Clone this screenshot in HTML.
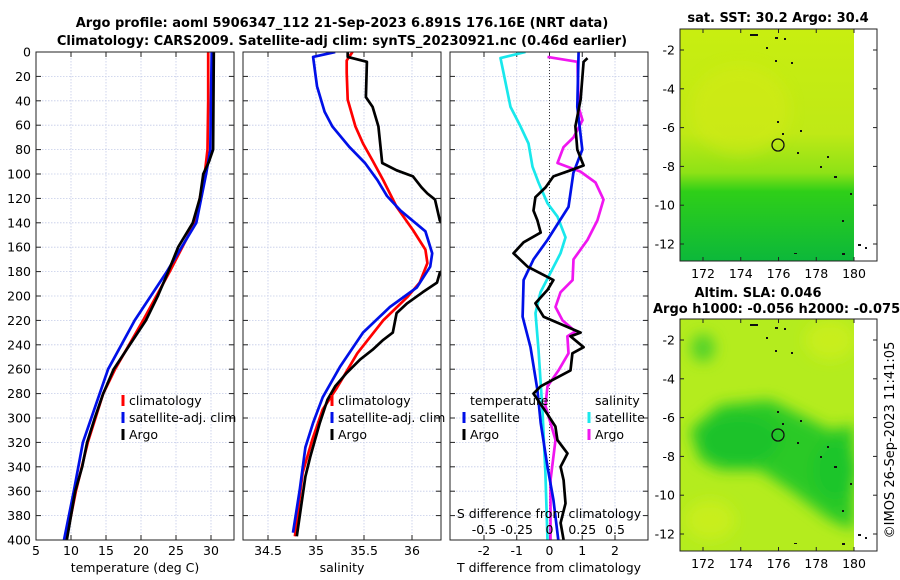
<!DOCTYPE html>
<html><head><meta charset="utf-8">
<style>
html,body{margin:0;padding:0;background:#fff;}
svg{display:block;font-family:"DejaVu Sans","Liberation Sans",sans-serif;}
</style></head>
<body>
<svg id="fig" width="900" height="580" viewBox="0 0 900 580" xmlns="http://www.w3.org/2000/svg">
<defs>
<filter id="blur6" x="-20%" y="-20%" width="140%" height="140%"><feGaussianBlur stdDeviation="7"/></filter>
<clipPath id="c1"><rect x="36" y="52" width="198" height="488"/></clipPath>
<clipPath id="c2"><rect x="243" y="52" width="198" height="488"/></clipPath>
<clipPath id="c3"><rect x="450" y="52" width="198" height="488"/></clipPath>
<clipPath id="m1"><rect x="680" y="29" width="174" height="232"/></clipPath>
<clipPath id="m2"><rect x="680" y="319" width="174" height="232"/></clipPath>
<linearGradient id="sstg" x1="0" y1="0" x2="0" y2="1">
<stop offset="0" stop-color="#c8ee10"/><stop offset="0.45" stop-color="#bfe916"/><stop offset="0.62" stop-color="#8ee216"/><stop offset="0.7" stop-color="#2fcf18"/><stop offset="1" stop-color="#0cb83a"/>
</linearGradient>
</defs>
<text x="342" y="27" font-size="13" font-weight="bold" text-anchor="middle">Argo profile: aoml 5906347_112 21-Sep-2023 6.891S 176.16E (NRT data)</text>
<text x="342" y="45" font-size="13" font-weight="bold" text-anchor="middle">Climatology: CARS2009. Satellite-adj clim: synTS_20230921.nc (0.46d earlier)</text>
<g id="panels"></g>
<!-- Map 1 -->
<g>
<text x="778" y="22" font-size="13" font-weight="bold" text-anchor="middle">sat. SST: 30.2 Argo: 30.4</text>
<g clip-path="url(#m1)">
<rect x="680" y="29" width="174" height="232" fill="url(#sstg)"/>
<ellipse cx="740" cy="110" rx="50" ry="45" fill="#d6ea18" opacity="0.5" filter="url(#blur6)"/>
</g>
<rect x="680" y="29" width="197" height="232" fill="none" stroke="#222" stroke-width="1"/>
<circle cx="778" cy="145" r="6" fill="none" stroke="#111" stroke-width="1.3"/>
<g id="dots1" fill="#111"></g>
</g>
<!-- Map 2 -->
<g>
<text x="758" y="297" font-size="13" font-weight="bold" text-anchor="middle">Altim. SLA: 0.046</text>
<text x="653" y="313" font-size="13" font-weight="bold">Argo h1000: -0.056 h2000: -0.075</text>
<g clip-path="url(#m2)">
<rect x="680" y="319" width="174" height="232" fill="#b4ec1e"/>
<g filter="url(#blur6)">
<ellipse cx="703" cy="348" rx="12" ry="14" fill="#52d22a"/>
<path d="M690 430 L720 405 L770 400 L790 410 L830 430 L854 425 L854 530 L830 520 L790 490 L760 470 L720 470 L700 460 Z" fill="#2ac926"/>
<ellipse cx="740" cy="440" rx="40" ry="25" fill="#1fc22c"/>
<ellipse cx="835" cy="470" rx="22" ry="30" fill="#1ec52c"/>
<ellipse cx="830" cy="340" rx="25" ry="20" fill="#c8ee1a"/>
<ellipse cx="710" cy="520" rx="25" ry="20" fill="#c8ee1a"/>
</g>
</g>
<rect x="680" y="319" width="197" height="232" fill="none" stroke="#222" stroke-width="1"/>
<circle cx="778" cy="435" r="6" fill="none" stroke="#111" stroke-width="1.3"/>
<g id="dots2" fill="#111"></g>
</g>
<text transform="translate(894,440) rotate(-90)" font-size="13" text-anchor="middle">©IMOS 26-Sep-2023 11:41:05</text>
<g id="mapaxes"></g>
</svg>
<script>
// ---- data (depth in m) ----
var tempDepths   = [0,40,80,100,140,180,220,260,280,320,360,400];
var tempClim     = [29.6,29.6,29.5,29.1,27.7,24.1,20.3,16.3,14.6,12.4,10.7,9.3];
var tempSatClim  = [30.1,30.0,29.9,29.3,27.9,23.7,19.1,15.3,14.1,11.7,10.4,9.0];
var tempArgoDepths = [0,80,90,100,120,140,160,180,200,220,240,260,280,300,320,340,360,380,400];
var tempArgo     = [30.4,30.3,29.7,28.9,28.4,27.4,25.3,23.9,22.4,20.7,18.4,16.1,14.6,13.4,12.3,11.6,10.6,10.0,9.4];

var salClimDepths = [0,7,17,39,61,75,89,105,127,146,162,173,189,201,220,247,275,293,318,345,397];
var salClim      = [35.38,35.32,35.32,35.33,35.41,35.49,35.59,35.70,35.84,36.01,36.14,36.16,36.08,35.95,35.70,35.43,35.22,35.07,34.96,34.86,34.78];
var salSatDepths = [0,4,28,49,61,78,91,105,118,130,147,165,176,193,209,230,258,283,304,324,359,394];
var salSat       = [35.20,34.97,35.01,35.09,35.17,35.35,35.51,35.64,35.74,35.88,36.14,36.21,36.19,36.05,35.77,35.49,35.25,35.07,34.97,34.89,34.83,34.76];
var salArgoDepths = [0,4,8,37,45,61,91,97,102,111,116,121,138,155,170,181,189,197,206,214,230,236,244,252,263,274,285,304,332,348,397];
var salArgo      = [35.33,35.33,35.53,35.52,35.59,35.65,35.69,35.84,36.01,36.10,36.16,36.24,36.29,36.45,36.45,36.29,36.26,36.11,35.95,35.84,35.80,35.70,35.59,35.46,35.32,35.20,35.12,35.04,34.94,34.89,34.80];

var dTSatDepths = [0,45,80,99,127,154,170,187,217,242,277,304,340,367,400];
var dTSat       = [0.89,0.85,1.0,0.73,0.58,-0.06,-0.49,-0.79,-0.82,-0.58,-0.37,-0.27,-0.06,0.12,0.27];
var dTArgoDepths = [5,8,39,61,80,93,97,102,111,119,130,138,148,156,165,176,187,195,206,217,230,233,242,247,261,274,280,297,307,318,329,340,351,370,386,400];
var dTArgo      = [1.16,1.04,0.95,0.79,0.85,1.04,0.64,0.12,-0.12,-0.43,-0.49,-0.37,-0.27,-0.79,-1.10,-0.67,0.12,-0.06,-0.43,-0.18,0.95,0.64,1.04,0.70,0.64,-0.27,-0.49,-0.06,0.18,0.24,0.55,0.34,0.43,0.49,0.34,0.43];
var dSSatDepths = [0,5,17,45,61,75,94,107,124,135,152,165,181,197,214,244,296,345,400];
var dSSat       = [-0.183,-0.374,-0.351,-0.298,-0.221,-0.160,-0.130,-0.084,-0.015,0.061,0.122,0.084,0.008,-0.069,-0.107,-0.084,-0.053,-0.031,-0.015];
var dSArgoDepths = [4,8,45,56,70,78,91,98,107,121,138,154,170,187,197,209,220,229,233,247,261,274,290,304,318,351,400];
var dSArgo      = [-0.015,0.214,0.221,0.252,0.183,0.107,0.061,0.237,0.351,0.412,0.366,0.290,0.183,0.176,0.084,0.046,0.099,0.198,0.137,0.145,0.069,-0.015,-0.031,0.008,0.046,0.008,0.008];

var depthTicks = [0,20,40,60,80,100,120,140,160,180,200,220,240,260,280,300,320,340,360,380,400];
var tempTicks = [5,10,15,20,25,30];
var salTicks = ["34.5","35","35.5","36"];
var diffTicks = ["-2","-1","0","1","2"];
var sdiffTicks = ["-0.5","-0.25","0","0.25","0.5"];

var NS="http://www.w3.org/2000/svg";
function el(tag, attrs, parent){var e=document.createElementNS(NS,tag);for(var k in attrs)e.setAttribute(k,attrs[k]);parent.appendChild(e);return e;}
var Y0=52,Y1=540;
function yD(d){return Y0+(d/400)*(Y1-Y0);}
function lin(d0,d1,r0,r1){return function(v){return r0+(v-d0)/(d1-d0)*(r1-r0);};}
var panels=[
 {x0:36,x1:234,sx:lin(5,30,36,211),clip:"c1",name:"temperature-panel"},
 {x0:243,x1:441,sx:lin(34.5,36,268,412),clip:"c2",name:"salinity-panel"},
 {x0:450,x1:648,sx:lin(-2,2,484,615),clip:"c3",name:"difference-panel"}
];
var root=document.getElementById('panels');
function path(xs,ds,sx,color,g,name){
  var d="";for(var i=0;i<xs.length;i++){d+=(i?"L":"M")+sx(xs[i]).toFixed(1)+" "+yD(ds[i]).toFixed(1);}
  var p=el('path',{d:d,fill:"none",stroke:color,"stroke-width":2.7,"stroke-linejoin":"round"},g);
  
  
}
panels.forEach(function(P,pi){
  var g=el('g',{},root);
  
  
  var xt = pi==0?tempTicks.map(Number):(pi==1?salTicks.map(Number):diffTicks.map(Number));
  depthTicks.forEach(function(d){
    el('line',{x1:P.x0,x2:P.x1,y1:yD(d),y2:yD(d),stroke:"#c4cbe8","stroke-width":0.8,"stroke-dasharray":"1.5,1.5"},g);
  });
  xt.forEach(function(v,i){
    var x=P.sx(v);
    el('line',{x1:x,x2:x,y1:Y0,y2:Y1,stroke:"#c4cbe8","stroke-width":0.8,"stroke-dasharray":"1.5,1.5"},g);
    el('line',{x1:x,x2:x,y1:Y1,y2:Y1-5,stroke:"#222"},g);
    el('line',{x1:x,x2:x,y1:Y0,y2:Y0+5,stroke:"#222"},g);
    var lab = pi==0?String(v):(pi==1?salTicks[i]:diffTicks[i]);
    var t=el('text',{x:x,y:555,"font-size":12.5,"text-anchor":"middle"},g);t.textContent=lab;
    
    
  });
  depthTicks.forEach(function(d){
    el('line',{x1:P.x0,x2:P.x0+5,y1:yD(d),y2:yD(d),stroke:"#222"},g);
    el('line',{x1:P.x1,x2:P.x1-5,y1:yD(d),y2:yD(d),stroke:"#222"},g);
    if(pi==0){var t=el('text',{x:31,y:yD(d)+4.5,"font-size":12.5,"text-anchor":"end"},g);t.textContent=d;
      
      }
  });
  var cg=el('g',{"clip-path":"url(#"+P.clip+")"},g);
  if(pi==0){
    path(tempClim,tempDepths,P.sx,"#f00",cg,"temp-climatology-line");
    path(tempSatClim,tempDepths,P.sx,"#0010e8",cg,"temp-satellite-line");
    path(tempArgo,tempArgoDepths,P.sx,"#000",cg,"temp-argo-line");
  } else if(pi==1){
    path(salClim,salClimDepths,P.sx,"#f00",cg,"sal-climatology-line");
    path(salSat,salSatDepths,P.sx,"#0010e8",cg,"sal-satellite-line");
    path(salArgo,salArgoDepths,P.sx,"#000",cg,"sal-argo-line");
  } else {
    el('line',{x1:P.sx(0),x2:P.sx(0),y1:Y0,y2:Y1,stroke:"#333","stroke-width":1,"stroke-dasharray":"1,2"},cg);
    var ss=function(v){return P.sx(v*4);};
    path(dSSat,dSSatDepths,ss,"#19e8ec",cg,"sdiff-satellite-line");
    path(dSArgo,dSArgoDepths,ss,"#f016f0",cg,"sdiff-argo-line");
    path(dTSat,dTSatDepths,P.sx,"#0010e8",cg,"tdiff-satellite-line");
    path(dTArgo,dTArgoDepths,P.sx,"#000",cg,"tdiff-argo-line");
    var t=el('text',{x:549,y:518,"font-size":12.5,"text-anchor":"middle"},g);t.textContent="S difference from climatology";
    
    
    sdiffTicks.forEach(function(s){
      var t2=el('text',{x:ss(Number(s)),y:534,"font-size":12.5,"text-anchor":"middle"},g);t2.textContent=s;
      
      
    });
  }
  el('rect',{x:P.x0,y:Y0,width:P.x1-P.x0,height:Y1-Y0,fill:"none",stroke:"#222","stroke-width":1},g);
  var xl=["temperature (deg C)","salinity","T difference from climatology"][pi];
  var t=el('text',{x:(P.x0+P.x1)/2,y:572,"font-size":12.5,"text-anchor":"middle"},g);t.textContent=xl;
  
  
});
function legend(x,y,color,label){
  var g=el('g',{},root);
  
  
  el('line',{x1:x,x2:x,y1:y-10,y2:y+1,stroke:color,"stroke-width":3},g);
  var t=el('text',{x:x+6,y:y,"font-size":12.5},g);t.textContent=label;
}
[[123,"#f00","climatology"],[123,"#0010e8","satellite-adj. clim"],[123,"#000","Argo"]].forEach(function(a,i){legend(a[0],405+i*17,a[1],a[2]);});
[[332,"#f00","climatology"],[332,"#0010e8","satellite-adj. clim"],[332,"#000","Argo"]].forEach(function(a,i){legend(a[0],405+i*17,a[1],a[2]);});
var lt=el('text',{x:470,y:405,"font-size":12.5},root);lt.textContent="temperature";


var ls=el('text',{x:595,y:405,"font-size":12.5},root);ls.textContent="salinity";


legend(464,422,"#0010e8","satellite");legend(464,439,"#000","Argo");
legend(589,422,"#19e8ec","satellite");legend(589,439,"#f016f0","Argo");
var ma=document.getElementById('mapaxes');
var lonTicks=[172,174,176,178,180];
var latTicks=[-2,-4,-6,-8,-10,-12];
[[29,261,50,244],[319,551,340,534]].forEach(function(m){
  var lx=lin(172,180,703,854), ly=lin(-2,-12,m[2],m[3]);
  lonTicks.forEach(function(v){
    el('line',{x1:lx(v),x2:lx(v),y1:m[1],y2:m[1]-4,stroke:"#222"},ma);
    el('line',{x1:lx(v),x2:lx(v),y1:m[0],y2:m[0]+4,stroke:"#222"},ma);
    var t=el('text',{x:lx(v),y:m[1]+17,"font-size":12.5,"text-anchor":"middle"},ma);t.textContent=v;
    
    
  });
  latTicks.forEach(function(v){
    el('line',{x1:680,x2:684,y1:ly(v),y2:ly(v),stroke:"#222"},ma);
    el('line',{x1:877,x2:873,y1:ly(v),y2:ly(v),stroke:"#222"},ma);
    var t=el('text',{x:675,y:ly(v)+4.5,"font-size":12.5,"text-anchor":"end"},ma);t.textContent=v;
    
    
  });
});
var specks=[[750,34,8,2],[775,37,3,2],[784,38,2,2],[766,47,2,2],[775,60,2,2],[791,62,2,2],[777,121,2,2],[782,133,2,2],[800,130,2,2],[797,152,2,2],[827,156,2,2],[820,166,2,2],[834,176,3,2],[850,193,2,2],[842,220,2,2],[858,244,3,2],[865,247,2,2],[794,253,3,1],[842,253,3,2]];
['dots1','dots2'].forEach(function(id,k){
  var g=document.getElementById(id);
  specks.forEach(function(s){el('rect',{x:s[0],y:s[1]+(k?290:0),width:s[2],height:s[3]},g);});
});
</script>
</body></html>
